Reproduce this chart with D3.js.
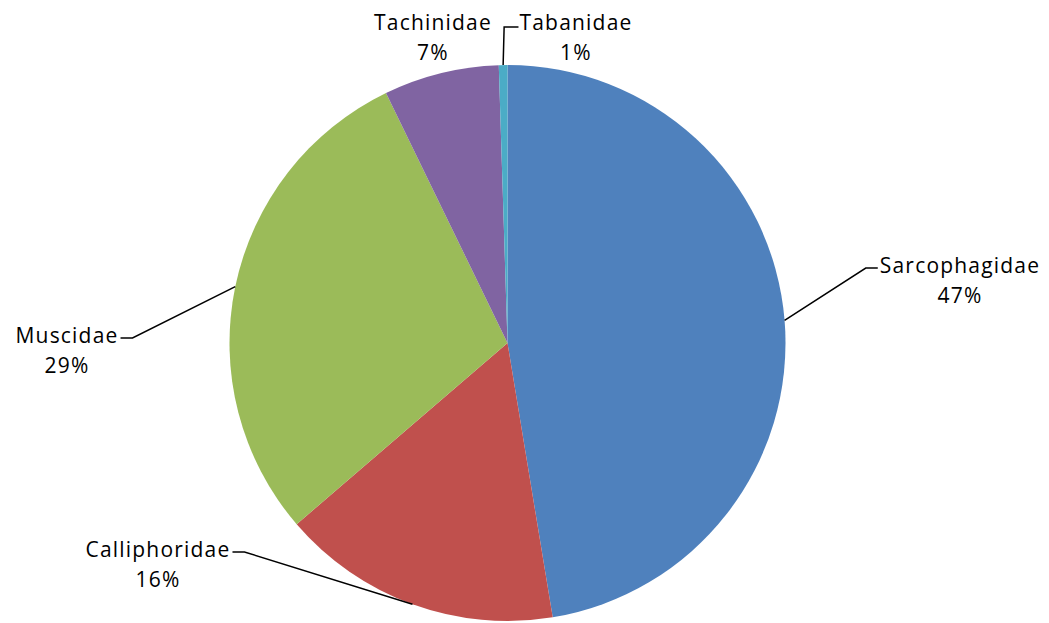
<!DOCTYPE html>
<html>
<head>
<meta charset="utf-8">
<script src="https://cdn.jsdelivr.net/npm/d3@7"></script>
<style>
  body { margin: 0; background: #fff; }
  svg { display: block; }
  .lbl { font-family: "Open Sans", sans-serif; font-size: 21px; fill: #000; letter-spacing: 1.2px; }
</style>
</head>
<body>
<svg width="1049" height="623"></svg>
<script>
// data (percent of flies)
const families = ["Sarcophagidae", "Calliphoridae", "Muscidae", "Tachinidae", "Tabanidae"];
const shares = [47.4, 16.3, 29.1, 6.7, 0.5];
const colors = ["#4F81BD", "#C0504D", "#9BBB59", "#8064A2", "#4BACC6"];

let svg = d3.select("svg");
let cx = 507.5, cy = 343, radius = 278;

// where each label sits (text centre x, first baseline y) and which side the elbow is
let labelPos = {
  Sarcophagidae: { x: 960, y: 273, side: "left" },
  Calliphoridae: { x: 158, y: 557, side: "right" },
  Muscidae: { x: 67, y: 343, side: "right" },
  Tachinidae: { x: 433, y: 30, side: null },
  Tabanidae: { x: 576, y: 30, side: "top" }
};

let data = families.map((f, i) => ({ name: f, value: shares[i], color: colors[i] }));

let pie = d3.pie().sort(null).value(d => d.value);
let arc = d3.arc().innerRadius(0).outerRadius(radius);
let edge = d3.arc().innerRadius(radius).outerRadius(radius);

let arcs = pie(data);

let g = svg.append("g").attr("transform", `translate(${cx},${cy})`);

g.selectAll("path.slice")
  .data(arcs)
  .enter()
  .append("path")
  .attr("class", "slice")
  .attr("d", arc)
  .attr("fill", d => d.data.color);

// leader lines
let lines = svg.append("g")
  .attr("fill", "none")
  .attr("stroke", "#000")
  .attr("stroke-width", 1.5);

// labels first, so the elbows can hook onto the real text box
let fmt = v => Math.round(v) + "%";
let labels = svg.append("g");
let boxes = {};
arcs.forEach(a => {
  let lp = labelPos[a.data.name];
  let t = labels.append("text")
    .attr("class", "lbl")
    .attr("text-anchor", "middle");
  let first = t.append("tspan").attr("x", lp.x).attr("y", lp.y).text(a.data.name);
  t.append("tspan").attr("x", lp.x).attr("y", lp.y + 30).text(fmt(a.data.value));
  let w = first.node().getComputedTextLength();
  boxes[a.data.name] = { left: lp.x - w / 2, right: lp.x + w / 2 };
});

arcs.forEach(a => {
  let lp = labelPos[a.data.name];
  if (!lp.side) return;
  let [ex, ey] = edge.centroid(a);
  ex += cx; ey += cy;
  let b = boxes[a.data.name];
  let pts;
  if (lp.side === "left") {
    pts = [[ex, ey], [b.left - 14, lp.y - 5], [b.left - 2, lp.y - 5]];
  } else if (lp.side === "right") {
    pts = [[ex, ey], [b.right + 14, lp.y - 5], [b.right + 2, lp.y - 5]];
  } else {
    pts = [[ex, ey], [ex + 1, lp.y - 3], [b.left - 1, lp.y - 3]];
  }
  lines.append("path").attr("d", d3.line()(pts));
});
</script>
</body>
</html>
